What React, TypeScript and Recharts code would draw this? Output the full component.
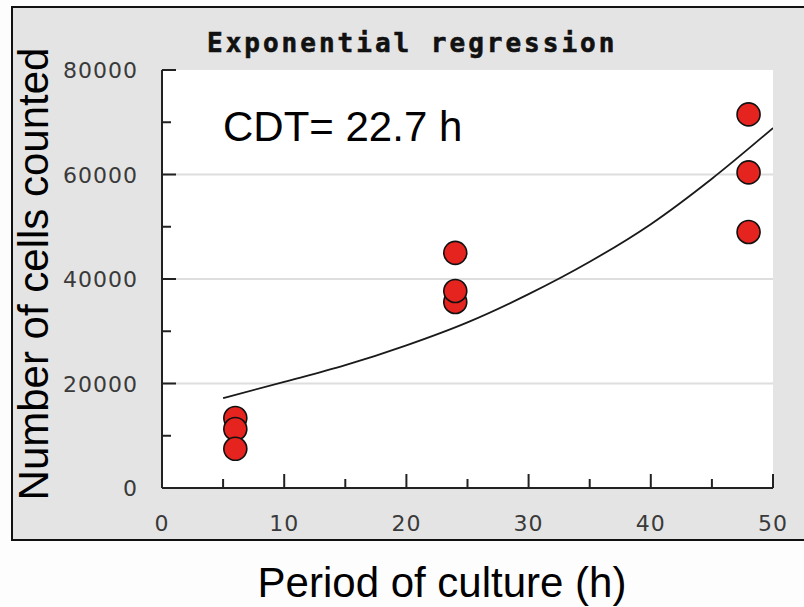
import React from "react";
import {
  ComposedChart,
  Line,
  Scatter,
  XAxis,
  YAxis,
  CartesianGrid,
} from "recharts";

// Measured cell counts (period of culture in h, number of cells)
const sampleHours = [6, 6, 6, 24, 24, 24, 48, 48, 48];
const cellCounts = [13400, 11300, 7500, 35600, 37700, 45000, 71500, 60400, 49000];

// Exponential regression curve
const fitHours = [5, 10, 15, 20, 25, 30, 35, 40, 45, 50];
const fitCounts = [17200, 20300, 23500, 27300, 31700, 37100, 43300, 50500, 59200, 68900];

const xTicks = [0, 5, 10, 15, 20, 25, 30, 35, 40, 45, 50];
const yTicks = [0, 10000, 20000, 30000, 40000, 50000, 60000, 70000, 80000];
const gridValues = [20000, 40000, 60000];

const titleText = "Exponential regression";
const cdtText = "CDT= 22.7 h";
const xLabel = "Period of culture (h)";
const yLabel = "Number of cells counted";

const points = sampleHours.map((h, i) => ({ x: h, y: cellCounts[i] }));
const fit = fitHours.map((h, i) => ({ x: h, y: fitCounts[i] }));

const tickFont = "'DejaVu Sans', sans-serif";

const XTick = (props: any) => {
  const { x, y, payload } = props;
  const major = payload.value % 10 === 0;
  return (
    <g>
      {payload.value !== 0 && (
        <line x1={x} x2={x} y1={y} y2={y - (major ? 14 : 9)} stroke="#222" strokeWidth={2} />
      )}
      {major && (
        <text
          x={x}
          y={y + 43}
          textAnchor="middle"
          fontFamily={tickFont}
          fontSize={22}
          letterSpacing={1}
          fill="#3a3a3a"
        >
          {payload.value}
        </text>
      )}
    </g>
  );
};

const YTick = (props: any) => {
  const { x, y, payload } = props;
  const major = payload.value % 20000 === 0;
  return (
    <g>
      {payload.value !== 0 && (
        <line x1={x} x2={x + (major ? 14 : 9)} y1={y} y2={y} stroke="#222" strokeWidth={2} />
      )}
      {major && (
        <text
          x={x - 24}
          y={y + 8}
          textAnchor="end"
          fontFamily={tickFont}
          fontSize={22}
          letterSpacing={1}
          fill="#3a3a3a"
        >
          {payload.value}
        </text>
      )}
    </g>
  );
};

const Dot = (props: any) => {
  const { cx, cy } = props;
  return <circle cx={cx} cy={cy} r={11.5} fill="#e5231f" stroke="#111" strokeWidth={1.6} />;
};

export default function App() {
  return (
    <div
      style={{
        position: "absolute",
        left: 0,
        top: 0,
        width: 804,
        height: 607,
        background: "#fdfdfd",
        overflow: "hidden",
      }}
    >
      <div
        style={{
          position: "absolute",
          left: 11,
          top: 6,
          width: 800,
          height: 531,
          background: "#e4e4e4",
          borderTop: "2px solid #111",
          borderLeft: "2px solid #111",
          borderBottom: "2px solid #111",
        }}
      />
      <div style={{ position: "absolute", left: 0, top: 0 }}>
        <ComposedChart
          width={804}
          height={607}
          margin={{ top: 70, right: 31, bottom: 79, left: 62 }}
        >
          <CartesianGrid
            vertical={false}
            horizontal={true}
            horizontalValues={gridValues}
            stroke="#dedede"
            strokeWidth={2}
            fill="#ffffff"
            fillOpacity={1}
          />
          <XAxis
            dataKey="x"
            type="number"
            domain={[0, 50]}
            ticks={xTicks}
            interval={0}
            tickSize={0}
            tickMargin={0}
            tickLine={false}
            tick={<XTick />}
            axisLine={{ stroke: "#222", strokeWidth: 2 }}
            height={40}
            allowDataOverflow
          />
          <YAxis
            dataKey="y"
            type="number"
            domain={[0, 80000]}
            ticks={yTicks}
            interval={0}
            tickSize={0}
            tickMargin={0}
            tickLine={false}
            tick={<YTick />}
            axisLine={{ stroke: "#222", strokeWidth: 2 }}
            width={100}
            allowDataOverflow
          />
          <Line
            data={fit}
            dataKey="y"
            type="monotone"
            stroke="#1a1a1a"
            strokeWidth={1.8}
            dot={false}
            activeDot={false}
            isAnimationActive={false}
          />
          <Scatter data={points} dataKey="y" shape={<Dot />} isAnimationActive={false} />
        </ComposedChart>
      </div>
      <svg
        width={804}
        height={607}
        style={{ position: "absolute", left: 0, top: 0, pointerEvents: "none" }}
      >
        <text
          x={207}
          y={52}
          fontFamily="'DejaVu Sans Mono', monospace"
          fontWeight="bold"
          fontSize={26}
          letterSpacing={3}
          fill="#111"
          stroke="#111"
          strokeWidth={0.6}
        >
          {titleText}
        </text>
        <text
          x={223}
          y={141}
          fontFamily="'Liberation Sans', Arial, sans-serif"
          fontSize={42}
          fill="#000"
        >
          {cdtText}
        </text>
        <text
          x={442}
          y={597}
          textAnchor="middle"
          fontFamily="'Liberation Sans', Arial, sans-serif"
          fontSize={42}
          fill="#000"
        >
          {xLabel}
        </text>
        <text
          x={48}
          y={274}
          textAnchor="middle"
          transform="rotate(-90, 48, 274)"
          fontFamily="'Liberation Sans', Arial, sans-serif"
          fontSize={42}
          fill="#000"
        >
          {yLabel}
        </text>
      </svg>
    </div>
  );
}
